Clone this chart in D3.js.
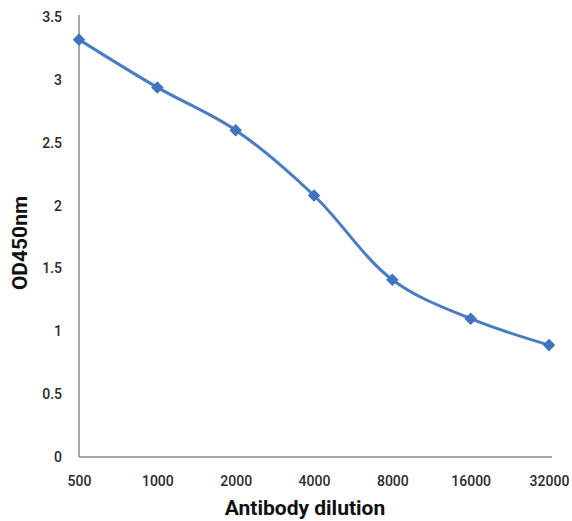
<!DOCTYPE html>
<html>
<head>
<meta charset="utf-8">
<script src="https://cdn.jsdelivr.net/npm/d3@7"></script>
<style>
body{margin:0;background:#fff;}
.axis text{font-family:Roboto, sans-serif;font-size:14px;font-weight:500;fill:#2a2a2a;}
.title{font-family:Roboto, sans-serif;font-weight:bold;font-size:21px;fill:#111;}
</style>
</head>
<body>
<div class="chart"></div>
<script>
const dilutions = ["500","1000","2000","4000","8000","16000","32000"];
const od450 = [3.32, 2.94, 2.60, 2.08, 1.41, 1.10, 0.89];
const yTicks = [0, 0.5, 1, 1.5, 2, 2.5, 3, 3.5];

const data = dilutions.map((d,i)=>({dilution:d, od:od450[i]}));

const margin = {top:17, left:79, right:20, bottom:64};
const width = 572 - margin.left - margin.right;
const height = 521 - margin.top - margin.bottom;

const svg = d3.select(".chart").append("svg")
    .attr("width", 572)
    .attr("height", 521)
    .append("g")
    .attr("transform", "translate(" + margin.left + "," + margin.top + ")");

const xScale = d3.scalePoint()
    .domain(dilutions)
    .range([0, width - 3]);
const yScale = d3.scaleLinear()
    .domain([0, 3.5])
    .range([height, 0]);

const yAxis = d3.axisLeft(yScale)
    .tickValues(yTicks)
    .tickSize(0)
    .tickPadding(17)
    .tickFormat(d=>d);
svg.append("g")
    .attr("class", "axis y-axis")
    .call(yAxis)
    .call(g=>g.select(".domain").remove());

const xAxis = d3.axisBottom(xScale)
    .tickSize(0)
    .tickPadding(19);
svg.append("g")
    .attr("class", "axis x-axis")
    .attr("transform", `translate(0, ${height})`)
    .call(xAxis)
    .call(g=>g.select(".domain").remove());

// axis lines
svg.append("line")
    .attr("x1",0).attr("x2",0)
    .attr("y1",-2).attr("y2",height)
    .attr("stroke","#8a8a8a").attr("stroke-width",1.5);
svg.append("line")
    .attr("x1",0).attr("x2",width)
    .attr("y1",height).attr("y2",height)
    .attr("stroke","#8a8a8a").attr("stroke-width",1.5);

const line = d3.line()
    .x(d=>xScale(d.dilution))
    .y(d=>yScale(d.od))
    .curve(d3.curveCatmullRom.alpha(0.5));

svg.append("path")
    .datum(data)
    .attr("fill","none")
    .attr("stroke","#4a7cc2")
    .attr("stroke-width",3)
    .attr("d", line);

svg.selectAll(".point")
    .data(data)
    .enter()
    .append("path")
    .attr("class","point")
    .attr("d", d3.symbol(d3.symbolDiamond2, 100))
    .attr("transform", d=>`translate(${xScale(d.dilution)},${yScale(d.od)})`)
    .attr("fill","#3f74c0");

svg.append("text")
    .attr("class","title")
    .attr("x", 226)
    .attr("y", height + 58)
    .attr("text-anchor","middle")
    .text("Antibody dilution");

svg.append("text")
    .attr("class","title")
    .attr("transform", `translate(-52, ${height/2 + 6}) rotate(-90)`)
    .attr("text-anchor","middle")
    .text("OD450nm");
</script>
</body>
</html>
